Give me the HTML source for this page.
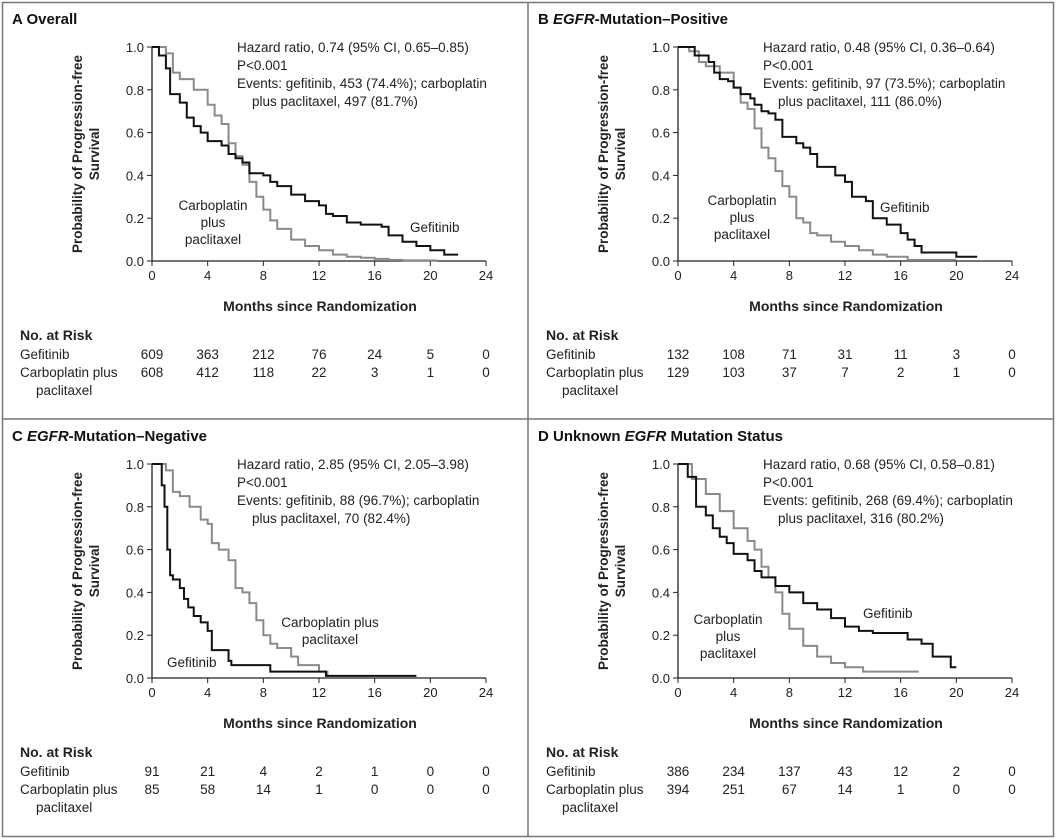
<!DOCTYPE html>
<html><head><meta charset="utf-8"><style>
body{margin:0;background:#fff;}
svg{display:block;font-family:"Liberation Sans",sans-serif;}
</style></head><body>
<svg id="chart" width="1056" height="840"></svg>
<script>
const xTicks=[0,4,8,12,16,20,24];
const yTicks=[0,0.2,0.4,0.6,0.8,1.0];
const hazard=["Hazard ratio, 0.74 (95% CI, 0.65–0.85)","Hazard ratio, 0.48 (95% CI, 0.36–0.64)","Hazard ratio, 2.85 (95% CI, 2.05–3.98)","Hazard ratio, 0.68 (95% CI, 0.58–0.81)"];
const events1=["Events: gefitinib, 453 (74.4%); carboplatin","Events: gefitinib, 97 (73.5%); carboplatin","Events: gefitinib, 88 (96.7%); carboplatin","Events: gefitinib, 268 (69.4%); carboplatin"];
const events2=["plus paclitaxel, 497 (81.7%)","plus paclitaxel, 111 (86.0%)","plus paclitaxel, 70 (82.4%)","plus paclitaxel, 316 (80.2%)"];
const riskGef=[[609,363,212,76,24,5,0],[132,108,71,31,11,3,0],[91,21,4,2,1,0,0],[386,234,137,43,12,2,0]];
const riskCarbo=[[608,412,118,22,3,1,0],[129,103,37,7,2,1,0],[85,58,14,1,0,0,0],[394,251,67,14,1,0,0]];
const gefT=[
[0,0.5,1,1.3,2,2.5,3,3.5,4,5,5.5,6,6.5,7,8,8.5,9,10,11,12,12.5,13,14,15,16.5,17,18,19,20,21,22],
[0,1.2,2.2,2.6,3,3.6,4,4.5,5.2,5.5,6,6.5,7,7.5,8,8.5,9,9.5,10,11,11.3,12,12.5,13.5,14,15,16,16.5,17,17.5,18,20,21.5],
[0,0.7,0.9,1.1,1.3,1.5,2,2.3,2.6,3,3.5,4,4.3,4.5,5.5,5.7,8,8.5,12.5,19],
[0,0.7,1.3,2,2.5,3,3.5,4,5,5.5,6,7,8,9,10,11,12,13,14,16,16.5,17.5,18.3,19.6,20]];
const gefS=[
[1,0.96,0.9,0.78,0.74,0.67,0.63,0.6,0.56,0.54,0.5,0.48,0.46,0.41,0.40,0.37,0.35,0.31,0.28,0.26,0.22,0.21,0.18,0.17,0.16,0.12,0.09,0.07,0.05,0.03,0.03],
[1,0.96,0.93,0.88,0.85,0.84,0.81,0.78,0.76,0.73,0.7,0.69,0.66,0.58,0.58,0.55,0.53,0.5,0.44,0.44,0.4,0.37,0.3,0.28,0.2,0.17,0.13,0.1,0.07,0.04,0.04,0.02,0.02],
[1,0.9,0.8,0.6,0.48,0.46,0.42,0.37,0.33,0.29,0.26,0.22,0.13,0.13,0.08,0.06,0.06,0.03,0.01,0.01],
[1,0.94,0.8,0.76,0.7,0.66,0.63,0.58,0.55,0.5,0.47,0.43,0.4,0.35,0.32,0.28,0.24,0.22,0.21,0.21,0.18,0.16,0.1,0.05,0.05]];
const carT=[
[0,1,1.5,2,3,4,4.5,5,5.5,6,6.5,7,7.5,8,8.5,9,10,11,12,13,14,15,16,17,18,20.5],
[0,0.8,1.5,2,3,4,4.5,5,5.5,6,6.5,7,7.5,8,8.5,9,9.5,10,11,12,13,14,15,16.5,20],
[0,1,1.5,2,2.7,3.5,4,4.3,4.8,5.5,6,6.5,7,7.5,8,8.5,9,10,10.5,12,12.6],
[0,1,2,3,4,5,5.5,6,6.5,7,7.5,8,9,10,11,12,13.3,17.3]];
const carS=[
[1,0.97,0.88,0.85,0.8,0.73,0.68,0.64,0.55,0.49,0.45,0.37,0.3,0.24,0.19,0.15,0.1,0.07,0.05,0.03,0.02,0.015,0.01,0.005,0.003,0.003],
[1,0.98,0.93,0.91,0.88,0.81,0.74,0.71,0.62,0.53,0.48,0.42,0.35,0.3,0.2,0.18,0.13,0.12,0.09,0.07,0.05,0.03,0.02,0.005,0.005],
[1,0.97,0.87,0.85,0.8,0.74,0.72,0.63,0.6,0.55,0.42,0.4,0.35,0.27,0.2,0.16,0.14,0.1,0.06,0.03,0.01],
[1,0.93,0.86,0.78,0.7,0.64,0.6,0.52,0.47,0.4,0.3,0.23,0.15,0.1,0.07,0.05,0.03,0.03]];
const labelPos=[[[410,232,"Gefitinib"],[213,210,"Carboplatin|plus|paclitaxel"]],[[880,212,"Gefitinib"],[742,205,"Carboplatin|plus|paclitaxel"]],[[167,667,"Gefitinib"],[330,627,"Carboplatin plus|paclitaxel"]],[[863,618,"Gefitinib"],[728,624,"Carboplatin|plus|paclitaxel"]]];

const svg=document.getElementById('chart');
const NS="http://www.w3.org/2000/svg";
function mk(tag,attrs,parent){const e=document.createElementNS(NS,tag);for(const k in attrs)e.setAttribute(k,attrs[k]);(parent||svg).appendChild(e);return e;}
function txt(x,y,s,attrs,parent){const t=mk('text',Object.assign({x:x,y:y,'font-size':13.5,fill:'#222'},attrs||{}),parent);t.textContent=s;return t;}

const frame=mk('rect',{x:2.5,y:2.5,width:1051,height:834,fill:'none',stroke:'#777','stroke-width':1.5});

const vl=mk('line',{x1:528,y1:2,x2:528,y2:837,stroke:'#777','stroke-width':1.5});

const hl=mk('line',{x1:2,y1:419,x2:1054,y2:419,stroke:'#777','stroke-width':1.5});


const names=['overall','egfr-positive','egfr-negative','egfr-unknown'];
const titleParts=[[["A  ",0],["Overall",0]],[["B  ",0],["EGFR",1],["-Mutation–Positive",0]],[["C  ",0],["EGFR",1],["-Mutation–Negative",0]],[["D  ",0],["Unknown ",0],["EGFR",1],[" Mutation Status",0]]];
for(let p=0;p<4;p++){
  const ox=(p%2)*526, oy=Math.floor(p/2)*417;
  const g=mk('g',{});
  
  
  const X0=152+ox,X1=486+ox,Y0=261+oy,Y1=47+oy;
  const sx=v=>X0+(X1-X0)*v/24, sy=v=>Y0-(Y0-Y1)*v;
  const tt=mk('text',{x:12+ox,y:24+oy,'font-size':15,'font-weight':'bold',fill:'#111'},g);
  
  titleParts[p].forEach(tp=>{const s=document.createElementNS(NS,'tspan');s.textContent=tp[0];if(tp[1])s.setAttribute('font-style','italic');tt.appendChild(s);});
  const ax=mk('path',{d:`M${X0},${Y1} V${Y0} H${X1}`,fill:'none',stroke:'#222','stroke-width':1.3},g);
  
  xTicks.forEach(v=>{mk('line',{x1:sx(v),x2:sx(v),y1:Y0,y2:Y0+5,stroke:'#222'},g);
    const l=txt(sx(v),Y0+19,String(v),{'text-anchor':'middle','font-size':13},g);
    });
  yTicks.forEach(v=>{mk('line',{x1:X0-5,x2:X0,y1:sy(v),y2:sy(v),stroke:'#222'},g);
    const l=txt(X0-8,sy(v)+5,v.toFixed(1),{'text-anchor':'end','font-size':13},g);
    });
  const yt=mk('text',{transform:`translate(${82+ox},${154+oy}) rotate(-90)`,'text-anchor':'middle','font-size':13.5,'font-weight':'bold',fill:'#222'},g);
  
  const ya=document.createElementNS(NS,'tspan');ya.setAttribute('x',0);ya.setAttribute('y',0);ya.textContent='Probability of Progression-free';yt.appendChild(ya);
  const yb=document.createElementNS(NS,'tspan');yb.setAttribute('x',0);yb.setAttribute('y',17);yb.textContent='Survival';yt.appendChild(yb);
  const xt=txt(320+ox,311+oy,'Months since Randomization',{'text-anchor':'middle','font-weight':'bold','font-size':14},g);
  
  [hazard[p],'P<0.001',events1[p]].forEach((s,i)=>{const a=txt(237+ox,52+oy+i*18,s,{},g);});
  const a2=txt(252+ox,106+oy,events2[p],{},g);
  function step(T,S,col,nm){let d=`M${sx(T[0])},${sy(S[0])}`;for(let i=1;i<T.length;i++){d+=` H${sx(T[i])} V${sy(S[i])}`;}
    const pth=mk('path',{d:d,fill:'none',stroke:col,'stroke-width':2},g);
    }
  step(carT[p],carS[p],'#8a8a8a','carboplatin-curve');
  step(gefT[p],gefS[p],'#111','gefitinib-curve');
  const gl=labelPos[p][0];const gLab=txt(gl[0],gl[1],gl[2],{'font-size':13.5},g);
  
  const cl=labelPos[p][1];
  cl[2].split('|').forEach((s,i)=>{const c=txt(cl[0],cl[1]+i*17,s,{'text-anchor':'middle','font-size':13.5},g);
    });
  const rh=txt(20+ox,340+oy,'No. at Risk',{'font-weight':'bold','font-size':14},g);
  
  const r1=txt(20+ox,359+oy,'Gefitinib',{},g);
  const r2=txt(20+ox,377+oy,'Carboplatin plus',{},g);
  const r3=txt(36+ox,395+oy,'paclitaxel',{},g);
  xTicks.forEach((v,i)=>{
    const n1=txt(sx(v),359+oy,String(riskGef[p][i]),{'text-anchor':'middle'},g);
    
    const n2=txt(sx(v),377+oy,String(riskCarbo[p][i]),{'text-anchor':'middle'},g);
    
  });
}
</script>
</body></html>
